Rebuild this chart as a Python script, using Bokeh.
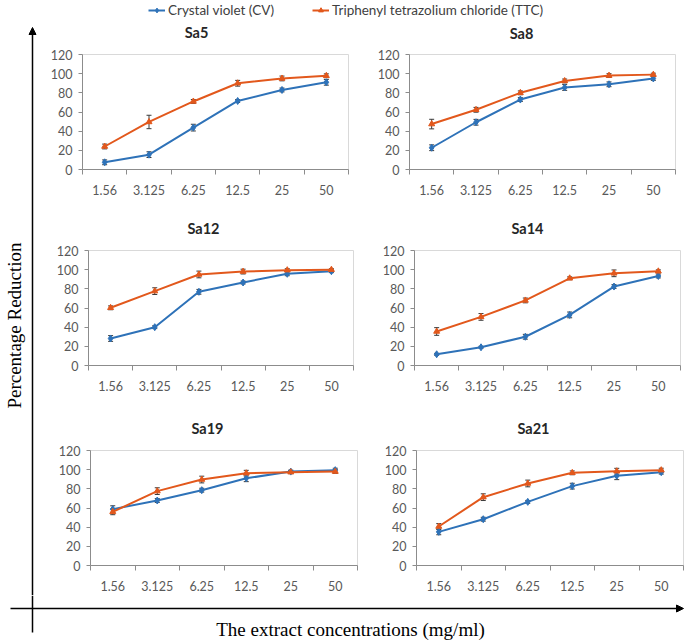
from bokeh.plotting import figure
from bokeh.layouts import row, column
from bokeh.models import (Range1d, FixedTicker, ColumnDataSource, Whisker, TeeHead,
                          Legend, LegendItem, Label, Arrow, NormalHead,
                          CustomJSTickFormatter)
from bokeh.embed import file_html
from bokeh.resources import INLINE

# ---------------- data ----------------
concentrations = ["1.56", "3.125", "6.25", "12.5", "25", "50"]
series_names = ["Crystal violet (CV)", "Triphenyl tetrazolium chloride (TTC)"]
titles = ["Sa5", "Sa8", "Sa12", "Sa14", "Sa19", "Sa21"]
y_ticks = [0, 20, 40, 60, 80, 100, 120]

sa5_cv = [7.5, 15.5, 43.7, 71.5, 83.0, 91.0]
sa5_cv_err = [2.5, 3.0, 3.5, 1.5, 2.0, 3.0]
sa5_ttc = [24.0, 49.6, 71.0, 90.0, 95.0, 97.8]
sa5_ttc_err = [2.5, 7.0, 2.0, 3.0, 2.5, 2.0]

sa8_cv = [22.7, 49.3, 73.0, 85.6, 88.9, 95.0]
sa8_cv_err = [3.0, 3.0, 2.0, 3.0, 2.5, 2.0]
sa8_ttc = [47.4, 62.3, 80.0, 92.4, 98.0, 99.0]
sa8_ttc_err = [5.0, 2.5, 2.0, 2.0, 2.0, 1.5]

sa12_cv = [28.2, 40.0, 76.9, 86.6, 95.7, 98.4]
sa12_cv_err = [3.0, 1.5, 2.5, 1.5, 2.0, 1.5]
sa12_ttc = [60.2, 77.6, 95.0, 98.0, 99.5, 100.0]
sa12_ttc_err = [2.0, 3.5, 3.5, 2.5, 1.5, 1.0]

sa14_cv = [11.7, 19.0, 30.0, 52.8, 82.4, 93.4]
sa14_cv_err = [1.0, 1.0, 2.5, 3.0, 2.0, 2.0]
sa14_ttc = [35.5, 50.7, 67.9, 91.0, 96.2, 98.3]
sa14_ttc_err = [4.0, 3.5, 2.5, 1.5, 3.5, 1.5]

sa19_cv = [58.8, 67.8, 78.6, 91.0, 98.0, 99.5]
sa19_cv_err = [3.5, 2.0, 2.0, 3.5, 1.5, 2.0]
sa19_ttc = [56.0, 77.6, 89.7, 96.3, 97.4, 98.0]
sa19_ttc_err = [3.0, 3.5, 3.5, 3.0, 1.5, 2.0]

sa21_cv = [35.1, 48.3, 66.4, 82.8, 93.6, 97.4]
sa21_cv_err = [3.0, 2.0, 1.5, 3.0, 4.0, 2.0]
sa21_ttc = [40.7, 71.3, 85.6, 96.7, 98.4, 99.5]
sa21_ttc_err = [3.0, 3.5, 3.5, 2.0, 3.0, 2.0]

# ---------------- style ----------------
CV_COLOR = "#2E72B8"
TTC_COLOR = "#E2581C"
ERR_COLOR = "#3A3A3A"
AXIS_COLOR = "#8C8C8C"
FRAME_COLOR = "#D9D9D9"
TICK_COLOR = "#595959"
FONT = "Lato"
SERIF = "Liberation Serif"


def blank_strip(width, height):
    f = figure(width=width, height=height, x_range=Range1d(0, width), y_range=Range1d(height, 0),
               min_border=0, toolbar_location=None, output_backend="svg",
               x_axis_location=None, y_axis_location=None)
    f.xgrid.visible = False
    f.ygrid.visible = False
    f.outline_line_color = None
    return f


def title_strip(height, entries):
    f = blank_strip(640, height)
    for text, x, y in entries:
        f.add_layout(Label(x=x, y=y, text=text, text_align="center", text_baseline="middle",
                           text_font=FONT, text_font_size="14.5px", text_font_style="bold",
                           text_color="#262626"))
    return f


def make_panel(cv, cv_err, ttc, ttc_err, width, height, bl, br, bt, bb):
    n = len(concentrations)
    p = figure(width=width, height=height, x_range=Range1d(0, n), y_range=Range1d(0, 120),
               min_border_left=bl, min_border_right=br, min_border_top=bt, min_border_bottom=bb,
               toolbar_location=None, output_backend="svg", title=None)
    p.outline_line_color = FRAME_COLOR
    p.xgrid.visible = False
    p.ygrid.visible = False

    xs = [i + 0.5 for i in range(n)]
    xa = p.xaxis[0]
    xa.ticker = FixedTicker(ticks=xs, minor_ticks=list(range(n + 1)))
    xa.formatter = CustomJSTickFormatter(args=dict(labels=concentrations),
                                         code="return labels[Math.floor(tick)];")
    xa.major_tick_out = 0
    xa.major_tick_in = 0
    xa.minor_tick_out = 5
    xa.minor_tick_in = 0
    xa.minor_tick_line_color = AXIS_COLOR
    xa.axis_line_color = AXIS_COLOR
    xa.major_label_standoff = 10
    xa.major_label_text_font = FONT
    xa.major_label_text_font_size = "12.5px"
    xa.major_label_text_color = TICK_COLOR

    ya = p.yaxis[0]
    ya.ticker = FixedTicker(ticks=y_ticks)
    ya.major_tick_out = 4
    ya.major_tick_in = 0
    ya.minor_tick_line_color = None
    ya.major_tick_line_color = AXIS_COLOR
    ya.axis_line_color = AXIS_COLOR
    ya.major_label_standoff = 6
    ya.major_label_text_font = FONT
    ya.major_label_text_font_size = "12.5px"
    ya.major_label_text_color = TICK_COLOR

    for vals, errs, color, marker, msize in ((cv, cv_err, CV_COLOR, "diamond", 7),
                                             (ttc, ttc_err, TTC_COLOR, "triangle", 6)):
        src = ColumnDataSource(dict(x=xs, y=vals,
                                    upper=[v + e for v, e in zip(vals, errs)],
                                    lower=[v - e for v, e in zip(vals, errs)]))
        p.line("x", "y", source=src, line_color=color, line_width=2)
        p.scatter("x", "y", source=src, marker=marker, size=msize,
                  fill_color=color, line_color=color)
        p.add_layout(Whisker(base="x", upper="upper", lower="lower", source=src,
                             line_color=ERR_COLOR, line_width=1,
                             upper_head=TeeHead(size=5, line_color=ERR_COLOR, line_width=1),
                             lower_head=TeeHead(size=5, line_color=ERR_COLOR, line_width=1)))
    return p


p1 = make_panel(sa5_cv, sa5_cv_err, sa5_ttc, sa5_ttc_err, 316, 164, 38, 12, 12, 37)
p2 = make_panel(sa8_cv, sa8_cv_err, sa8_ttc, sa8_ttc_err, 324, 164, 49, 9, 8, 33)
p3 = make_panel(sa12_cv, sa12_cv_err, sa12_ttc, sa12_ttc_err, 316, 165, 44, 7, 12, 38)
p4 = make_panel(sa14_cv, sa14_cv_err, sa14_ttc, sa14_ttc_err, 324, 165, 54, 4, 11, 38)
p5 = make_panel(sa19_cv, sa19_cv_err, sa19_ttc, sa19_ttc_err, 316, 157, 46, 3, 12, 30)
p6 = make_panel(sa21_cv, sa21_cv_err, sa21_ttc, sa21_ttc_err, 324, 157, 56, 1, 12, 30)

t1 = title_strip(20, [(titles[0], 152, 10), (titles[1], 477, 11)])
t2 = title_strip(32, [(titles[2], 159, 22), (titles[3], 483, 22)])
t3 = title_strip(35, [(titles[4], 163, 25), (titles[5], 489, 25)])

# ---------------- legend strip ----------------
lg = figure(width=640, height=22, x_range=Range1d(100, 101), y_range=Range1d(0, 1),
            min_border=0, toolbar_location=None, output_backend="svg",
            x_axis_location=None, y_axis_location=None)
lg.xgrid.visible = False
lg.ygrid.visible = False
lg.outline_line_color = None
lx = [i + 0.5 for i in range(len(concentrations))]
r_cv_l = lg.line(lx, sa5_cv, line_color=CV_COLOR, line_width=2)
r_cv_s = lg.scatter(lx, sa5_cv, marker="diamond", size=7, fill_color=CV_COLOR, line_color=CV_COLOR)
r_tt_l = lg.line(lx, sa5_ttc, line_color=TTC_COLOR, line_width=2)
r_tt_s = lg.scatter(lx, sa5_ttc, marker="triangle", size=6, fill_color=TTC_COLOR, line_color=TTC_COLOR)
for name, rends, loc in ((series_names[0], [r_cv_l, r_cv_s], (104, 4)),
                         (series_names[1], [r_tt_l, r_tt_s], (268, 4))):
    leg = Legend(items=[LegendItem(label=name, renderers=rends)], location=loc,
                 orientation="horizontal", padding=0, margin=0, border_line_color=None,
                 background_fill_alpha=0, glyph_width=17, glyph_height=12, label_standoff=3,
                 label_text_font=FONT, label_text_font_size="13.5px", label_text_color="#404040",
                 label_height=12)
    lg.add_layout(leg)

# ---------------- left strip (y title + vertical arrow) ----------------
ls = blank_strip(44, 595)
ls.add_layout(Arrow(end=NormalHead(size=7, fill_color="black", line_color="black"),
                    x_start=32, y_start=595, x_end=32, y_end=27,
                    line_color="black", line_width=1.5))
ls.add_layout(Label(x=14, y=325, text="Percentage Reduction", angle=90, angle_units="deg",
                    text_align="center", text_baseline="middle", text_font=SERIF,
                    text_font_size="19px", text_color="black"))

# ---------------- bottom strip (x title + horizontal arrow) ----------------
bf = blank_strip(684, 45)
bf.add_layout(Arrow(end=None, x_start=32, y_start=0, x_end=32, y_end=37,
                    line_color="black", line_width=1.5))
bf.add_layout(Arrow(end=NormalHead(size=7, fill_color="black", line_color="black"),
                    x_start=10, y_start=13, x_end=683, y_end=13,
                    line_color="black", line_width=1.5))
bf.add_layout(Label(x=350, y=34, text="The extract concentrations (mg/ml)",
                    text_align="center", text_baseline="middle", text_font=SERIF,
                    text_font_size="19px", text_color="black"))

grid = column(lg, t1, row(p1, p2), t2, row(p3, p4), t3, row(p5, p6))
layout = column(row(ls, grid), bf)

open("out.html", "w").write(file_html(layout, INLINE))
